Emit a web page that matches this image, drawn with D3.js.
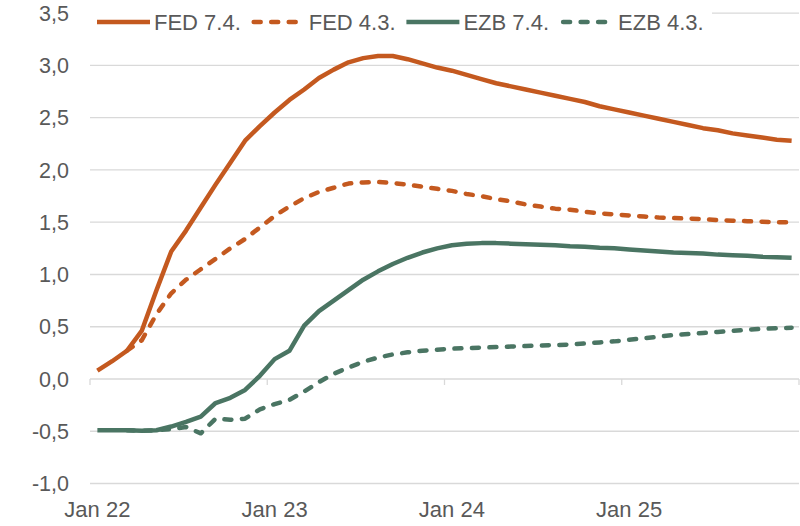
<!DOCTYPE html>
<html>
<head>
<meta charset="utf-8">
<script src="https://cdn.jsdelivr.net/npm/d3@7"></script>
<style>
  body { margin: 0; background: #fff; }
  svg { display: block; font-family: "Liberation Sans", Arial, sans-serif; }
</style>
</head>
<body>
<svg id="chart" width="800" height="526"></svg>
<script>
// monthly categories Jan 22 .. Dec 25
var months = d3.range(48).map(function (i) { return 2022 * 12 + i; });
var tickMonths = [0, 12, 24, 36];
var tickLabels = ["Jan 22", "Jan 23", "Jan 24", "Jan 25"];
var yTicks = [-1, -0.5, 0, 0.5, 1, 1.5, 2, 2.5, 3, 3.5];

var fed74 = [0.08, 0.17, 0.27, 0.46, 0.85, 1.22, 1.42, 1.64, 1.86, 2.07, 2.28, 2.42,
  2.55, 2.67, 2.77, 2.88, 2.96, 3.03, 3.07, 3.09, 3.09, 3.06, 3.02, 2.98,
  2.95, 2.91, 2.87, 2.83, 2.80, 2.77, 2.74, 2.71, 2.68, 2.65, 2.61, 2.58,
  2.55, 2.52, 2.49, 2.46, 2.43, 2.40, 2.38, 2.35, 2.33, 2.31, 2.29, 2.28];
var fed43 = [null, null, 0.27, 0.37, 0.62, 0.82, 0.95, 1.05, 1.15, 1.25, 1.34, 1.45,
  1.56, 1.65, 1.73, 1.79, 1.83, 1.87, 1.88, 1.885, 1.875, 1.86, 1.84, 1.82,
  1.80, 1.77, 1.75, 1.72, 1.70, 1.67, 1.65, 1.63, 1.62, 1.60, 1.585, 1.575,
  1.565, 1.555, 1.545, 1.54, 1.535, 1.53, 1.52, 1.515, 1.51, 1.505, 1.50, 1.50];
var ezb74 = [-0.49, -0.49, -0.49, -0.495, -0.49, -0.455, -0.41, -0.36, -0.23, -0.18, -0.105, 0.03,
  0.19, 0.27, 0.51, 0.65, 0.75, 0.85, 0.95, 1.03, 1.10, 1.16, 1.21, 1.25,
  1.28, 1.295, 1.30, 1.30, 1.295, 1.29, 1.285, 1.28, 1.27, 1.265, 1.255, 1.25,
  1.24, 1.23, 1.22, 1.21, 1.205, 1.20, 1.19, 1.185, 1.18, 1.17, 1.165, 1.16];
var ezb43 = [null, null, -0.49, -0.495, -0.49, -0.48, -0.46, -0.52, -0.38, -0.39, -0.38, -0.29,
  -0.24, -0.20, -0.12, -0.03, 0.05, 0.11, 0.165, 0.205, 0.235, 0.255, 0.27, 0.28,
  0.29, 0.295, 0.30, 0.305, 0.31, 0.315, 0.32, 0.325, 0.33, 0.34, 0.35, 0.36,
  0.375, 0.39, 0.405, 0.42, 0.43, 0.44, 0.45, 0.46, 0.47, 0.48, 0.485, 0.49];

var orange = "#C4591F";
var green = "#4A7563";
var series = [
  { name: "FED 7.4.", values: fed74, color: orange, dash: null },
  { name: "FED 4.3.", values: fed43, color: orange, dash: "7,10.5" },
  { name: "EZB 7.4.", values: ezb74, color: green, dash: null },
  { name: "EZB 4.3.", values: ezb43, color: green, dash: "7,10.5" }
];

var svg = d3.select("#chart");
var left = 90, right = 799;

var x = d3.scaleBand().domain(d3.range(months.length)).range([left, right]);
var y = d3.scaleLinear().domain([-1, 3.5]).range([483.5, 13.2]);
var cx = function (i) { return x(i) + x.bandwidth() / 2; };

// gridlines
svg.append("g").selectAll("line")
  .data(yTicks)
  .enter().append("line")
  .attr("x1", left).attr("x2", right)
  .attr("y1", function (d) { return y(d); })
  .attr("y2", function (d) { return y(d); })
  .attr("stroke", "#D9D9D9")
  .attr("stroke-width", 1.3);

// y labels
svg.append("g").selectAll("text")
  .data(yTicks)
  .enter().append("text")
  .attr("x", 69)
  .attr("y", function (d) { return y(d); })
  .attr("dy", "0.36em")
  .attr("text-anchor", "end")
  .attr("font-size", 21.5)
  .attr("fill", "#595959")
  .text(function (d) { return d3.format(".1f")(d).replace(".", ",").replace("−", "-"); });

// category tick marks at the zero line
var tickPos = tickMonths.map(function (m) { return x(m); }).concat([right]);
svg.append("g").selectAll("line")
  .data(tickPos)
  .enter().append("line")
  .attr("x1", function (d) { return d; })
  .attr("x2", function (d) { return d; })
  .attr("y1", y(0))
  .attr("y2", y(0) + 6)
  .attr("stroke", "#D9D9D9")
  .attr("stroke-width", 1.3);

svg.append("g").selectAll("text")
  .data(tickMonths)
  .enter().append("text")
  .attr("x", function (d) { return cx(d); })
  .attr("y", 517)
  .attr("text-anchor", "middle")
  .attr("font-size", 22)
  .attr("fill", "#595959")
  .text(function (d, i) { return tickLabels[i]; });

// lines
var line = d3.line()
  .defined(function (d) { return d != null; })
  .x(function (d, i) { return cx(i); })
  .y(function (d) { return y(d); });

series.forEach(function (s) {
  svg.append("path")
    .attr("d", line(s.values))
    .attr("fill", "none")
    .attr("stroke", s.color)
    .attr("stroke-width", 4.5)
    .attr("stroke-linejoin", "round")
    .attr("stroke-linecap", s.dash ? "round" : "butt")
    .attr("stroke-dasharray", s.dash);
});

// legend
svg.append("rect")
  .attr("x", 88).attr("y", 0)
  .attr("width", 624).attr("height", 40)
  .attr("fill", "#fff");

var legend = svg.append("g").selectAll("g")
  .data(series)
  .enter().append("g")
  .attr("transform", function (d, i) { return "translate(" + (97 + i * 154.7) + ",22)"; });

legend.append("line")
  .attr("x1", function (d) { return d.dash ? 2 : 0; })
  .attr("x2", 53)
  .attr("stroke", function (d) { return d.color; })
  .attr("stroke-width", 4.5)
  .attr("stroke-linecap", function (d) { return d.dash ? "round" : "butt"; })
  .attr("stroke-dasharray", function (d) { return d.dash; });

legend.append("text")
  .attr("x", 57)
  .attr("y", 0)
  .attr("dy", "0.36em")
  .attr("font-size", 22)
  .attr("fill", "#595959")
  .text(function (d) { return d.name; });
</script>
</body>
</html>
